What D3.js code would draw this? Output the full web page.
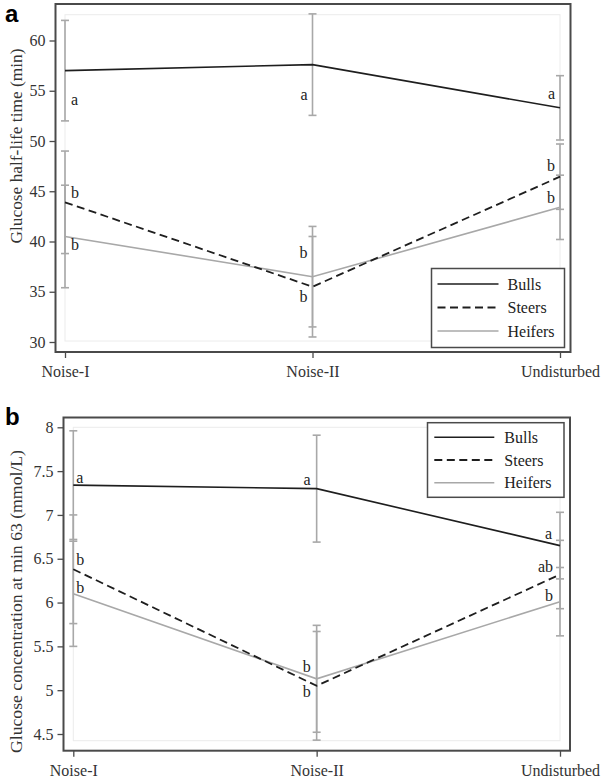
<!DOCTYPE html>
<html>
<head>
<meta charset="utf-8">
<script src="https://cdn.jsdelivr.net/npm/d3@7"></script>
<style>
  html, body { margin: 0; padding: 0; background: #fff; }
  svg { display: block; }
  text { font-family: "Liberation Serif", "Times New Roman", serif; }
  text.panel-label { font-family: "Liberation Sans", Arial, sans-serif; font-weight: bold; }
</style>
</head>
<body>
<svg id="chart" width="602" height="778"></svg>
<script>
// ---------- DATA ----------
const categories = ["Noise-I", "Noise-II", "Undisturbed"];
const seriesNames = ["Bulls", "Steers", "Heifers"];

// Panel a: glucose half-life time (min)
const halfLifeBulls      = [57.0, 57.6, 53.3];
const halfLifeBullsErr   = [5.0, 5.05, 3.2];
const halfLifeSteers     = [43.9, 35.5, 46.45];
const halfLifeSteersErr  = [5.1, 5.0, 3.25];
const halfLifeHeifers    = [40.5, 36.5, 43.4];
const halfLifeHeifersErr = [5.1, 5.0, 3.2];
const halfLifeLettersBulls   = ["a", "a", "a"];
const halfLifeLettersSteers  = ["b", "b", "b"];
const halfLifeLettersHeifers = ["b", "b", "b"];
const halfLifeTicks = [30, 35, 40, 45, 50, 55, 60];

// Panel b: glucose concentration at min 63 (mmol/L)
const glucoseBulls      = [7.34, 7.30, 6.65];
const glucoseBullsErr   = [0.62, 0.61, 0.38];
const glucoseSteers     = [6.38, 5.05, 6.32];
const glucoseSteersErr  = [0.62, 0.62, 0.39];
const glucoseHeifers    = [6.10, 5.13, 6.01];
const glucoseHeifersErr = [0.60, 0.61, 0.39];
const glucoseLettersBulls   = ["a", "a", "a"];
const glucoseLettersSteers  = ["b", "b", "ab"];
const glucoseLettersHeifers = ["b", "b", "b"];
const glucoseTicks = [4.5, 5, 5.5, 6, 6.5, 7, 7.5, 8];

// ---------- STYLE / LAYOUT ----------
const seriesStyle = {
  Bulls:   { stroke: "#1e1e1e", width: 1.6, dash: null },
  Steers:  { stroke: "#1e1e1e", width: 1.8, dash: "8,4.5" },
  Heifers: { stroke: "#a8a8a8", width: 1.6, dash: null }
};
const errColor = "#a8a8a8";
const frameColor = "#4a4a4a";

// letter offsets (dx, dy, anchor) per series per category
const letterLayoutA = {
  Bulls:   [[6, 29, "start"], [-5, 30, "end"], [-5, -14, "end"]],
  Steers:  [[6, -10, "start"], [-5, 10, "end"], [-5, -11, "end"]],
  Heifers: [[6, 8, "start"], [-5, -24, "end"], [-5, -10, "end"]]
};
const letterLayoutB = {
  Bulls:   [[3, -8, "start"], [-6, -9, "end"], [-8, -12, "end"]],
  Steers:  [[3, -10, "start"], [-6, 6, "end"], [-7, -8, "end"]],
  Heifers: [[3, -6, "start"], [-6, -12, "end"], [-7, -6, "end"]]
};

const svg = d3.select("#chart");

function drawPanel(cfg) {
  const g = svg.append("g");
  const x = d3.scalePoint().domain(categories).range([cfg.inner.x0, cfg.inner.x1]);
  const y = d3.scaleLinear().domain(cfg.yDomain).range(cfg.yRange);

  // inner light plot wall
  g.append("rect")
    .attr("x", cfg.inner.x0).attr("y", cfg.inner.y0)
    .attr("width", cfg.inner.x1 - cfg.inner.x0)
    .attr("height", cfg.inner.y1 - cfg.inner.y0)
    .attr("fill", "none").attr("stroke", "#ececec").attr("stroke-width", 1);

  const series = seriesNames.map((name, i) => ({
    name, values: cfg.values[i], errs: cfg.errs[i], letters: cfg.letters[i]
  }));

  // error bars
  series.forEach(s => {
    const eg = g.append("g");
    s.values.forEach((v, j) => {
      const cx = x(categories[j]);
      const lo = y(v - s.errs[j]), hi = y(v + s.errs[j]);
      eg.append("line").attr("x1", cx).attr("x2", cx).attr("y1", lo).attr("y2", hi)
        .attr("stroke", errColor).attr("stroke-width", 1.6);
      [lo, hi].forEach(yy => {
        eg.append("line").attr("x1", cx - 4).attr("x2", cx + 4).attr("y1", yy).attr("y2", yy)
          .attr("stroke", errColor).attr("stroke-width", 1.6);
      });
    });
  });

  // lines (heifers first so darker lines on top)
  const line = d3.line().x((d, j) => x(categories[j])).y(d => y(d));
  [2, 1, 0].forEach(i => {
    const s = series[i];
    const st = seriesStyle[s.name];
    g.append("path").datum(s.values)
      .attr("d", line)
      .attr("fill", "none")
      .attr("stroke", st.stroke)
      .attr("stroke-width", st.width)
      .attr("stroke-dasharray", st.dash);
  });

  // significance letters
  series.forEach(s => {
    s.values.forEach((v, j) => {
      const lay = cfg.letterLayout[s.name][j];
      g.append("text")
        .attr("x", x(categories[j]) + lay[0])
        .attr("y", y(v) + lay[1])
        .attr("dominant-baseline", "central")
        .attr("text-anchor", lay[2])
        .attr("font-size", 16)
        .attr("fill", "#222")
        .text(s.letters[j]);
    });
  });

  // frame
  g.append("rect")
    .attr("x", cfg.frame.x0).attr("y", cfg.frame.y0)
    .attr("width", cfg.frame.x1 - cfg.frame.x0)
    .attr("height", cfg.frame.y1 - cfg.frame.y0)
    .attr("fill", "none").attr("stroke", frameColor).attr("stroke-width", 2);

  // y axis
  const ya = g.append("g")
    .attr("transform", `translate(${cfg.frame.x0},0)`)
    .call(d3.axisLeft(y).tickValues(cfg.ticks).tickFormat(d => String(d)).tickSize(6).tickPadding(4));
  ya.select(".domain").remove();
  ya.selectAll(".tick line").attr("stroke", frameColor).attr("stroke-width", 1.3);
  ya.selectAll(".tick text").attr("font-size", 16).attr("fill", "#333");

  // x axis
  const xa = g.append("g")
    .attr("transform", `translate(0,${cfg.frame.y1})`)
    .call(d3.axisBottom(x).tickSize(6).tickPadding(8));
  xa.select(".domain").remove();
  xa.selectAll(".tick line").attr("stroke", frameColor).attr("stroke-width", 1.3);
  xa.selectAll(".tick text").attr("font-size", 16).attr("fill", "#333");

  // y title
  g.append("text")
    .attr("transform", `translate(${cfg.titleX},${cfg.titleY}) rotate(-90)`)
    .attr("text-anchor", "middle")
    .attr("dominant-baseline", "central")
    .attr("font-size", 17)
    .attr("textLength", cfg.titleLen)
    .attr("lengthAdjust", "spacingAndGlyphs")
    .attr("fill", "#333")
    .text(cfg.title);

  // panel letter
  g.append("text")
    .attr("class", "panel-label")
    .attr("x", cfg.panelX).attr("y", cfg.panelY)
    .attr("font-size", 24)
    .attr("fill", "#000")
    .text(cfg.panelLabel);

  // legend
  const L = cfg.legend;
  const lg = g.append("g");
  lg.append("rect").attr("x", L.x0).attr("y", L.y0)
    .attr("width", L.x1 - L.x0).attr("height", L.y1 - L.y0)
    .attr("fill", "#fff").attr("stroke", frameColor).attr("stroke-width", 1.5);
  seriesNames.forEach((name, i) => {
    const st = seriesStyle[name];
    const yy = L.rows[i];
    lg.append("line").attr("x1", L.lx0).attr("x2", L.lx1).attr("y1", yy).attr("y2", yy)
      .attr("stroke", st.stroke).attr("stroke-width", st.width)
      .attr("stroke-dasharray", st.dash);
    lg.append("text").attr("x", L.tx).attr("y", yy)
      .attr("dominant-baseline", "central")
      .attr("font-size", 16).attr("fill", "#222").text(name);
  });
}

drawPanel({
  values: [halfLifeBulls, halfLifeSteers, halfLifeHeifers],
  errs: [halfLifeBullsErr, halfLifeSteersErr, halfLifeHeifersErr],
  letters: [halfLifeLettersBulls, halfLifeLettersSteers, halfLifeLettersHeifers],
  letterLayout: letterLayoutA,
  ticks: halfLifeTicks,
  yDomain: [30, 60], yRange: [342, 40.5],
  inner: { x0: 65, x1: 560, y0: 14.7, y1: 341 },
  frame: { x0: 55.5, x1: 570.5, y0: 4, y1: 352 },
  title: "Glucose half-life time (min)", titleX: 16, titleY: 146, titleLen: 195,
  panelLabel: "a", panelX: 5, panelY: 22,
  legend: { x0: 431.5, x1: 564.5, y0: 268.5, y1: 347.5, rows: [284, 307.5, 331], lx0: 437.5, lx1: 498.5, tx: 507.5 }
});

drawPanel({
  values: [glucoseBulls, glucoseSteers, glucoseHeifers],
  errs: [glucoseBullsErr, glucoseSteersErr, glucoseHeifersErr],
  letters: [glucoseLettersBulls, glucoseLettersSteers, glucoseLettersHeifers],
  letterLayout: letterLayoutB,
  ticks: glucoseTicks,
  yDomain: [4.5, 8], yRange: [734, 427.3],
  inner: { x0: 73.3, x1: 560, y0: 427.3, y1: 740.7 },
  frame: { x0: 63.5, x1: 570, y0: 417.5, y1: 750.7 },
  title: "Glucose concentration at min 63 (mmol/L)", titleX: 16, titleY: 601.5, titleLen: 303,
  panelLabel: "b", panelX: 5, panelY: 425,
  legend: { x0: 427.5, x1: 564, y0: 422.7, y1: 497.3, rows: [437.3, 460, 482.7], lx0: 434.3, lx1: 494.3, tx: 504.3 }
});
</script>
</body>
</html>
